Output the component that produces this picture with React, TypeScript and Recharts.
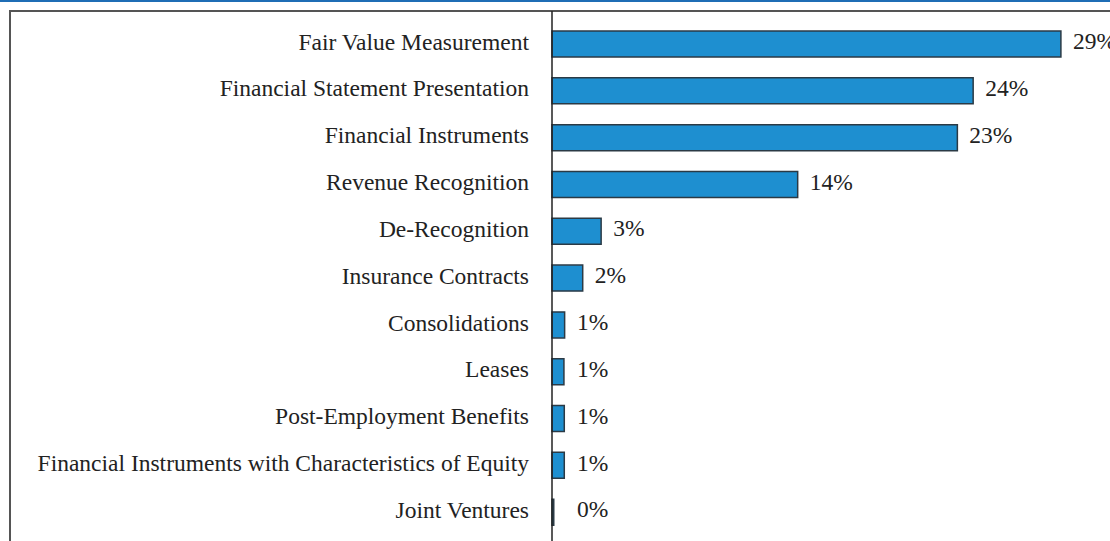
import React from "react";
import { BarChart, Bar, XAxis, YAxis, LabelList } from "recharts";

const categories = [
  "Fair Value Measurement",
  "Financial Statement Presentation",
  "Financial Instruments",
  "Revenue Recognition",
  "De-Recognition",
  "Insurance Contracts",
  "Consolidations",
  "Leases",
  "Post-Employment Benefits",
  "Financial Instruments with Characteristics of Equity",
  "Joint Ventures",
];
const values = [29, 24, 23.1, 14, 2.8, 1.75, 0.72, 0.68, 0.7, 0.7, 0.1];
const valueLabels = ["29%", "24%", "23%", "14%", "3%", "2%", "1%", "1%", "1%", "1%", "0%"];

const data = categories.map((name, i) => ({ name, value: values[i], label: valueLabels[i] }));

const FONT = "'Liberation Serif', 'Times New Roman', serif";
const FS = 23.5;

const ValueLabel = (props: any) => {
  const { x, y, width, height, value } = props;
  const tx = Math.max(x + width + 12, 577);
  return (
    <text x={tx} y={y + height / 2 - 3} dy="0.35em" fill="#222" fontFamily={FONT} fontSize={FS}>
      {value}
    </text>
  );
};

const CatTick = (props: any) => {
  const { x, y, payload } = props;
  return (
    <text x={x} y={y - 3} dy="0.35em" textAnchor="end" fill="#222" fontFamily={FONT} fontSize={FS}>
      {payload.value}
    </text>
  );
};

export default function App() {
  return (
    <div style={{ position: "absolute", left: 0, top: 0, width: 1110, height: 541, background: "#fff", overflow: "hidden" }}>
      <div style={{ position: "absolute", left: 0, top: 0, width: 1110, height: 2, background: "#1f6db5" }} />
      <div style={{ position: "absolute", left: 9, top: 10, width: 1101, height: 2, background: "#555" }} />
      <div style={{ position: "absolute", left: 9, top: 10, width: 2, height: 531, background: "#555" }} />
      <div style={{ position: "absolute", left: 0, top: 0 }}>
        <BarChart
          width={1110}
          height={541}
          layout="vertical"
          data={data}
          margin={{ top: 11, right: 14, bottom: 0, left: 0 }}
        >
          <XAxis type="number" domain={[0, 31]} hide />
          <YAxis
            type="category"
            dataKey="name"
            width={552}
            padding={{ top: 10, bottom: 5 }}
            axisLine={{ stroke: "#222", strokeWidth: 1.5 }}
            tickLine={false}
            tickSize={0}
            tickMargin={23}
            interval={0}
            tick={<CatTick />}
          />
          <Bar dataKey="value" fill="#1e8fd0" stroke="#2b3a45" strokeWidth={1.5} barSize={26} isAnimationActive={false}>
            <LabelList dataKey="label" content={<ValueLabel />} />
          </Bar>
        </BarChart>
      </div>
    </div>
  );
}
